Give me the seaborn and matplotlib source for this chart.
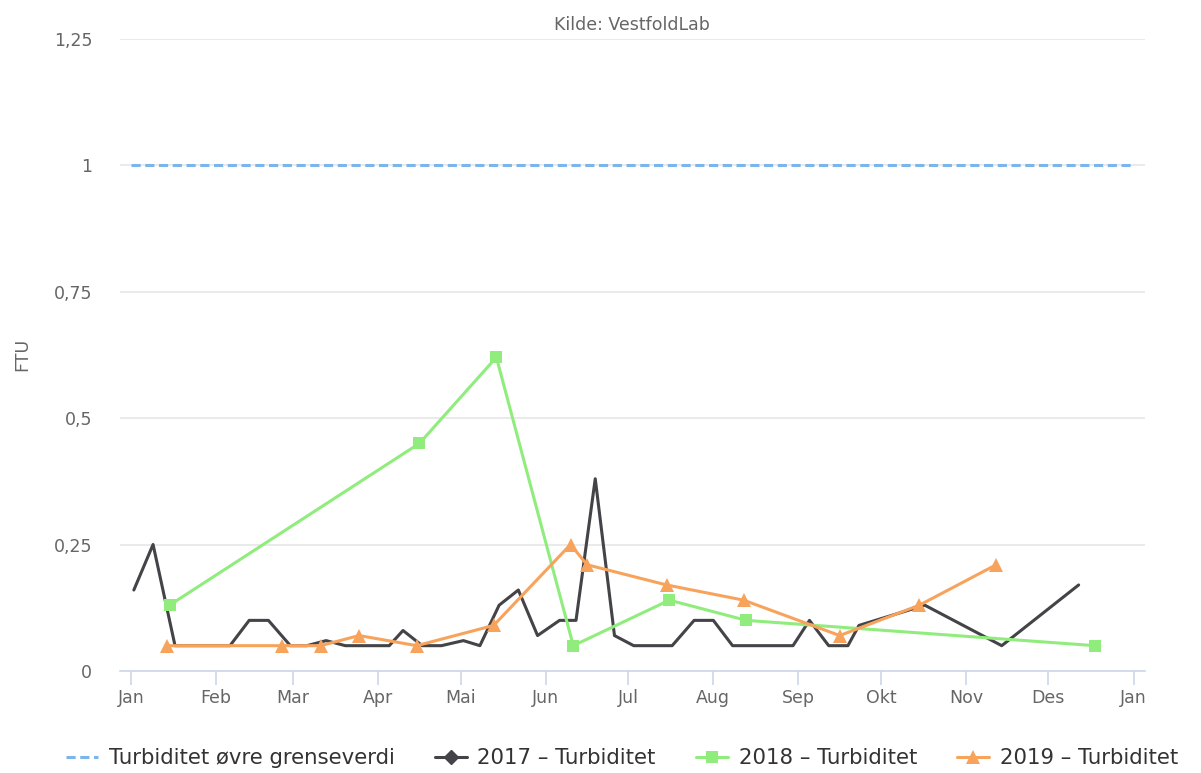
import pandas as pd
import numpy as np
import matplotlib.pyplot as plt
from matplotlib.lines import Line2D
import seaborn as sns

# all series are shown on a common year axis
dates_2017 = ['2017-01-02', '2017-01-09', '2017-01-17', '2017-02-06', '2017-02-13', '2017-02-20',
              '2017-02-28', '2017-03-06', '2017-03-13', '2017-03-20', '2017-04-05', '2017-04-10',
              '2017-04-17', '2017-04-24', '2017-05-02', '2017-05-08', '2017-05-15', '2017-05-22',
              '2017-05-29', '2017-06-06', '2017-06-12', '2017-06-19', '2017-06-26', '2017-07-03',
              '2017-07-17', '2017-07-25', '2017-08-01', '2017-08-08', '2017-08-30', '2017-09-05',
              '2017-09-12', '2017-09-19', '2017-09-23', '2017-10-17', '2017-11-14', '2017-12-12']
values_2017 = [0.16, 0.25, 0.05, 0.05, 0.10, 0.10,
               0.05, 0.05, 0.06, 0.05, 0.05, 0.08,
               0.05, 0.05, 0.06, 0.05, 0.13, 0.16,
               0.07, 0.10, 0.10, 0.38, 0.07, 0.05,
               0.05, 0.10, 0.10, 0.05, 0.05, 0.10,
               0.05, 0.05, 0.09, 0.13, 0.05, 0.17]

dates_2018 = ['2017-01-15', '2017-04-16', '2017-05-14', '2017-06-11', '2017-07-16', '2017-08-13', '2017-12-18']
values_2018 = [0.13, 0.45, 0.62, 0.05, 0.14, 0.10, 0.05]

dates_2019 = ['2017-01-14', '2017-02-25', '2017-03-11', '2017-03-25', '2017-04-15', '2017-05-13', '2017-06-10',
              '2017-06-16', '2017-07-15', '2017-08-12', '2017-09-16', '2017-10-15', '2017-11-12']
values_2019 = [0.05, 0.05, 0.05, 0.07, 0.05, 0.09, 0.25, 0.21, 0.17, 0.14, 0.07, 0.13, 0.21]

limit_dates = ['2017-01-01', '2018-01-01']
limit_values = [1.0, 1.0]

month_ticks = pd.date_range('2017-01-01', '2018-01-01', freq='MS')
month_labels = ['Jan', 'Feb', 'Mar', 'Apr', 'Mai', 'Jun', 'Jul', 'Aug', 'Sep', 'Okt', 'Nov', 'Des', 'Jan']
y_ticks = [0, 0.25, 0.5, 0.75, 1, 1.25]
y_labels = ['0', '0,25', '0,5', '0,75', '1', '1,25']

sns.set_theme(style='white')
plt.rcParams['font.family'] = ['DejaVu Sans']

fig = plt.figure(figsize=(12.01, 7.73), dpi=100)
ax = fig.add_axes([0.1, 0.132, 0.853, 0.818])

lim = pd.DataFrame({'date': pd.to_datetime(limit_dates), 'v': limit_values})
d17 = pd.DataFrame({'date': pd.to_datetime(dates_2017), 'v': values_2017})
d18 = pd.DataFrame({'date': pd.to_datetime(dates_2018), 'v': values_2018})
d19 = pd.DataFrame({'date': pd.to_datetime(dates_2019), 'v': values_2019})

dash = (0, (3, 1.5))
sns.lineplot(data=lim, x='date', y='v', ax=ax, color='#7cb5ec', lw=2.2, linestyle=dash,
             sort=False, estimator=None, legend=False)
sns.lineplot(data=d17, x='date', y='v', ax=ax, color='#434348', lw=2.2,
             sort=False, estimator=None, legend=False)
sns.lineplot(data=d18, x='date', y='v', ax=ax, color='#90ed7d', lw=2.2, marker='s', markersize=9,
             markeredgewidth=0, sort=False, estimator=None, legend=False)
sns.lineplot(data=d19, x='date', y='v', ax=ax, color='#f7a35c', lw=2.2, marker='^', markersize=10,
             markeredgewidth=0, sort=False, estimator=None, legend=False)

ax.set_xlim(pd.Timestamp('2016-12-28'), pd.Timestamp('2018-01-05'))
ax.set_ylim(0, 1.25)
ax.set_xticks(month_ticks)
ax.set_xticklabels(month_labels)
ax.set_yticks(y_ticks)
ax.set_yticklabels(y_labels)
ax.yaxis.grid(True, color='#e6e6e6', lw=1.2)
ax.xaxis.grid(False)
for s in ['top', 'right', 'left']:
    ax.spines[s].set_visible(False)
ax.spines['bottom'].set_color('#ccd6eb')
ax.spines['bottom'].set_linewidth(1.2)
ax.tick_params(axis='x', length=10, width=1.2, color='#ccd6eb', labelcolor='#666666', labelsize=12.5,
               direction='out', bottom=True, pad=3)
ax.tick_params(axis='y', length=0, labelcolor='#666666', labelsize=12.5, pad=20)
ax.set_xlabel('')
ax.set_ylabel('FTU', color='#666666', fontsize=12.5, labelpad=16)
ax.set_title('Kilde: VestfoldLab', color='#666666', fontsize=12.5, pad=6)

handles = [
    Line2D([], [], color='#7cb5ec', lw=2.2, linestyle=dash),
    Line2D([], [], color='#434348', lw=2.2, marker='D', markersize=7),
    Line2D([], [], color='#90ed7d', lw=2.2, marker='s', markersize=9, markeredgewidth=0),
    Line2D([], [], color='#f7a35c', lw=2.2, marker='^', markersize=10, markeredgewidth=0),
]
labels = ['Turbiditet øvre grenseverdi', '2017 – Turbiditet', '2018 – Turbiditet', '2019 – Turbiditet']
fig.legend(handles, labels, loc='center', bbox_to_anchor=(0.518, 0.019), ncol=4, frameon=False,
           fontsize=15.3, handlelength=1.5, columnspacing=1.9, handletextpad=0.5,
           labelcolor='#333333')

fig.savefig('out.png', dpi=100)
